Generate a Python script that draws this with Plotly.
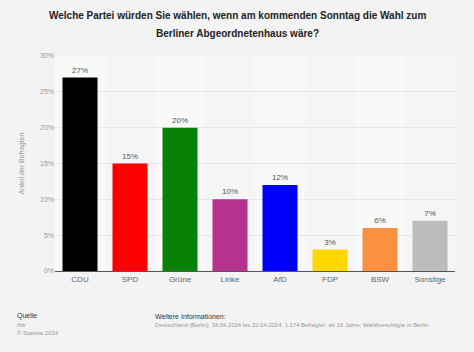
import plotly.graph_objects as go

categories = ["CDU", "SPD", "Grüne", "Linke", "AfD", "FDP", "BSW", "Sonstige"]
values = [27, 15, 20, 10, 12, 3, 6, 7]
colors = ["#000000", "#fe0000", "#078207", "#b3338f", "#0000fe", "#ffd800", "#fb9040", "#bcbcbc"]
tick_vals = [0, 5, 10, 15, 20, 25, 30]
tick_text = ["0%", "5%", "10%", "15%", "20%", "25%", "30%"]
title_lines = ["Welche Partei würden Sie wählen, wenn am kommenden Sonntag die Wahl zum",
               "Berliner Abgeordnetenhaus wäre?"]

FONT = "Liberation Sans, Arial, sans-serif"

fig = go.Figure()
fig.add_trace(go.Bar(
    x=categories, y=values,
    marker=dict(color=colors, line=dict(width=0)),
    width=0.7,
    text=[f"{v}%" for v in values],
    textposition="outside",
    textfont=dict(size=8, color="#555555", family=FONT),
    cliponaxis=False,
    hoverinfo="skip",
))

shapes = []
for i in range(len(categories)):
    shapes.append(dict(type="rect", xref="x", yref="paper", x0=i - 0.5, x1=i + 0.5, y0=0, y1=1,
                       fillcolor="#f9f9f9" if i % 2 == 0 else "#f5f5f5", line=dict(width=0), layer="below"))

fig.update_layout(
    width=474, height=352,
    paper_bgcolor="#f3f3f3",
    plot_bgcolor="#f3f3f3",
    margin=dict(l=55, r=19, t=56, b=81),
    showlegend=False,
    shapes=shapes,
    bargap=0.3,
    xaxis=dict(
        showgrid=False, showline=True, linecolor="#555555", linewidth=1,
        tickfont=dict(size=8, color="#666666", family=FONT),
        ticks="", range=[-0.5, 7.5],
    ),
    yaxis=dict(
        range=[0, 30], tickvals=tick_vals, ticktext=tick_text,
        tickfont=dict(size=7, color="#999999", family=FONT),
        showgrid=True, gridcolor="#e6e6e6", gridwidth=1,
        zeroline=False, ticks="", ticklen=0,
        title=dict(text="Anteil der Befragten", font=dict(size=7, color="#999999", family=FONT), standoff=14),
        layer="below traces",
    ),
    font=dict(family=FONT),
)

annotations = [
    dict(text="<b>" + title_lines[0] + "</b>", x=237, y=16, color="#222222", size=10, anchor="center"),
    dict(text="<b>" + title_lines[1] + "</b>", x=237, y=33, color="#222222", size=10, anchor="center"),
    dict(text="Quelle", x=15, y=316, color="#333333", size=7, anchor="left"),
    dict(text="rbb", x=15, y=324.5, color="#999999", size=6, anchor="left"),
    dict(text="© Statista 2024", x=15, y=332.5, color="#999999", size=6, anchor="left"),
    dict(text="Weitere Informationen:", x=153, y=316, color="#333333", size=7, anchor="left"),
    dict(text="Deutschland (Berlin); 18.04.2024 bis 22.04.2024; 1.174 Befragte¹; ab 18 Jahre; Wahlberechtigte in Berlin",
         x=153, y=324.5, color="#999999", size=5.9, anchor="left"),
]
for a in annotations:
    fig.add_annotation(text=a["text"], xref="paper", yref="paper",
                       x=(a["x"] - 55) / 400, y=(271 - a["y"]) / 215,
                       xanchor=a["anchor"], yanchor="middle", showarrow=False,
                       font=dict(size=a["size"], color=a["color"], family=FONT))

fig.write_html("out.html")
